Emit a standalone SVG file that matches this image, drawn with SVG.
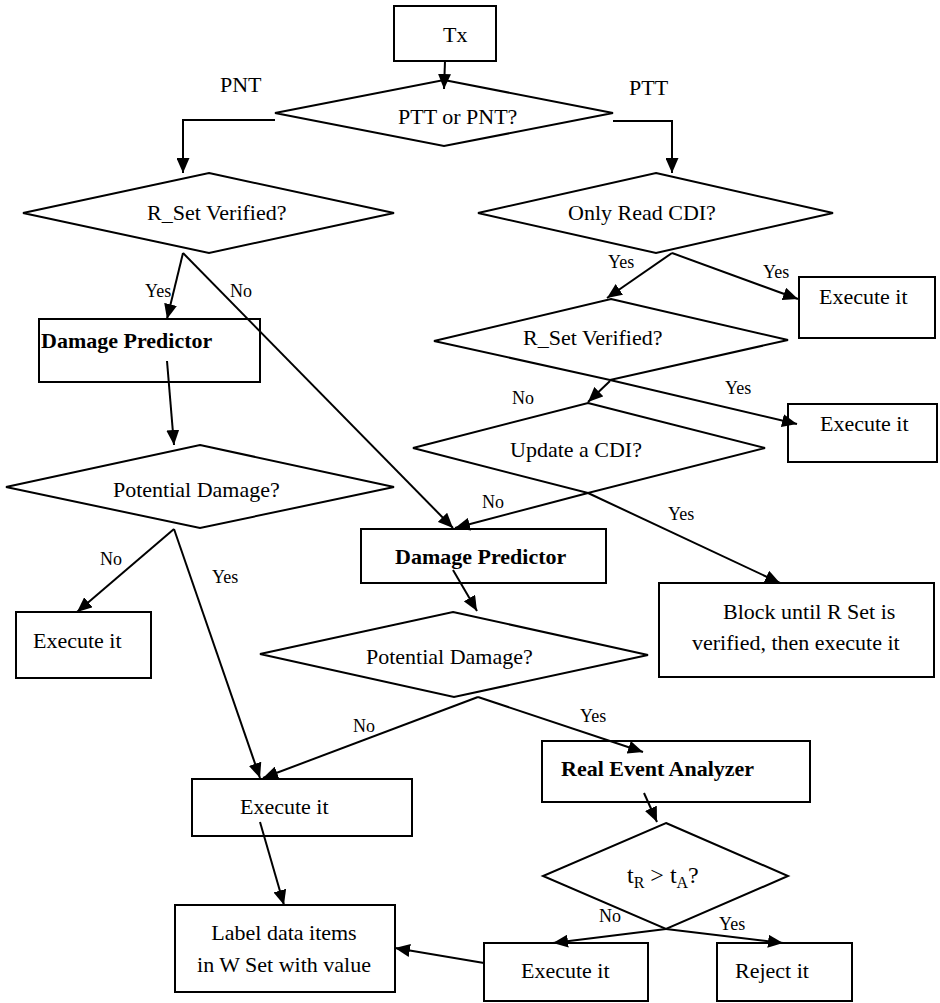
<svg xmlns="http://www.w3.org/2000/svg" width="940" height="1003" viewBox="0 0 940 1003">
<defs>
<marker id="ah" markerUnits="userSpaceOnUse" markerWidth="15" markerHeight="13" refX="15" refY="6.5" orient="auto">
<path d="M0,0 L15,6.5 L0,13 z" fill="#000"/>
</marker>
<style>
.s{fill:#fff;stroke:#000;stroke-width:2}
.c{fill:none;stroke:#000;stroke-width:2;marker-end:url(#ah)}
.l{fill:none;stroke:#000;stroke-width:2}
text{font-family:"Liberation Serif","Times New Roman",serif;fill:#000}
.t{font-size:22px}
.b{font-size:22px;font-weight:bold}
.y{font-size:18px}
</style>
</defs>
<rect width="940" height="1003" fill="#fff"/>

<g id="nodes">
<g id="tx"><rect class="s" x="394" y="6" width="102" height="55"/><text class="t" x="443" y="42">Tx</text></g>
<g id="ptt_or_pnt"><polygon class="s" points="444,80 613,113 444,146 275,113"/><text class="t" x="398" y="124">PTT or PNT?</text></g>
<g id="rset_left"><polygon class="s" points="209,173 394,213 209,253 23,213"/><text class="t" x="147" y="220">R_Set Verified?</text></g>
<g id="only_read"><polygon class="s" points="656,173 833,213 656,253 478,213"/><text class="t" x="568" y="220">Only Read CDI?</text></g>
<g id="exec1"><rect class="s" x="799" y="277" width="136" height="61"/><text class="t" x="819" y="304">Execute it</text></g>
<g id="dp_left"><rect class="s" x="39" y="319" width="221" height="63"/><text class="b" x="41" y="348">Damage Predictor</text></g>
<g id="rset_right"><polygon class="s" points="611,299 788,340 610,380 434,341"/><text class="t" x="523" y="345">R_Set Verified?</text></g>
<g id="exec2"><rect class="s" x="788" y="404" width="149" height="58"/><text class="t" x="820" y="431">Execute it</text></g>
<g id="update_cdi"><polygon class="s" points="588,403 765,448 588,493 413,448"/><text class="t" x="510" y="457">Update a CDI?</text></g>
<g id="pd_left"><polygon class="s" points="200,445 394,487 200,528 6,487"/><text class="t" x="113" y="497">Potential Damage?</text></g>
<g id="dp_mid"><rect class="s" x="361" y="529" width="245" height="54"/><text class="b" x="395" y="564">Damage Predictor</text></g>
<g id="block"><rect class="s" x="659" y="583" width="275" height="94"/><text class="t" x="723" y="619">Block until R Set is</text><text class="t" x="692" y="650">verified, then execute it</text></g>
<g id="exec_left"><rect class="s" x="16" y="612" width="135" height="66"/><text class="t" x="33" y="648">Execute it</text></g>
<g id="pd_mid"><polygon class="s" points="453,612 648,655 454,697 260,654"/><text class="t" x="366" y="664">Potential Damage?</text></g>
<g id="rea"><rect class="s" x="542" y="741" width="268" height="61"/><text class="b" x="561" y="776">Real Event Analyzer</text></g>
<g id="exec_mid"><rect class="s" x="192" y="779" width="220" height="57"/><text class="t" x="240" y="814">Execute it</text></g>
<g id="tr_ta"><polygon class="s" points="666,823 788,876 666,929 543,876"/><text x="627" y="883" font-size="24">t<tspan font-size="16" dy="5">R</tspan><tspan dy="-5"> &gt; t</tspan><tspan font-size="16" dy="5">A</tspan><tspan dy="-5">?</tspan></text></g>
<g id="label_box"><rect class="s" x="175" y="905" width="220" height="87"/><text class="t" x="284" y="940" text-anchor="middle">Label data items</text><text class="t" x="284" y="972" text-anchor="middle">in W Set with value</text></g>
<g id="exec_bottom"><rect class="s" x="484" y="943" width="164" height="58"/><text class="t" x="521" y="978">Execute it</text></g>
<g id="reject"><rect class="s" x="717" y="943" width="135" height="58"/><text class="t" x="735" y="978">Reject it</text></g>
</g>

<g id="connectors">
<line class="c" x1="445" y1="61" x2="444" y2="89"/>
<polyline class="c" points="275,120 183,120 183,173"/>
<polyline class="c" points="613,121 672,121 672,173"/>
<line class="c" x1="183" y1="253" x2="167" y2="319"/>
<line class="c" x1="183" y1="253" x2="453" y2="528"/>
<line class="c" x1="167" y1="361" x2="174" y2="445"/>
<line class="c" x1="174" y1="529" x2="77" y2="612"/>
<line class="c" x1="174" y1="529" x2="260" y2="778"/>
<line class="c" x1="672" y1="253" x2="607" y2="298"/>
<line class="c" x1="672" y1="253" x2="798" y2="299"/>
<line class="c" x1="610" y1="380" x2="797" y2="424"/>
<line class="c" x1="610" y1="381" x2="588" y2="402"/>
<line class="c" x1="588" y1="493" x2="455" y2="528"/>
<line class="c" x1="588" y1="493" x2="780" y2="583"/>
<line class="c" x1="453" y1="570" x2="477" y2="611"/>
<line class="c" x1="478" y1="697" x2="263" y2="778"/>
<line class="c" x1="478" y1="697" x2="643" y2="752"/>
<line class="c" x1="644" y1="793" x2="657" y2="822"/>
<line class="c" x1="666" y1="929" x2="553" y2="943"/>
<line class="c" x1="666" y1="929" x2="783" y2="943"/>
<line class="c" x1="260" y1="822" x2="284" y2="905"/>
<line class="c" x1="484" y1="963" x2="395" y2="948"/>
<text class="t" x="220" y="92">PNT</text>
<text class="t" x="629" y="95">PTT</text>
<text class="y" x="145" y="297">Yes</text>
<text class="y" x="230" y="297">No</text>
<text class="y" x="608" y="268">Yes</text>
<text class="y" x="763" y="278">Yes</text>
<text class="y" x="512" y="404">No</text>
<text class="y" x="725" y="394">Yes</text>
<text class="y" x="482" y="508">No</text>
<text class="y" x="668" y="520">Yes</text>
<text class="y" x="100" y="565">No</text>
<text class="y" x="212" y="583">Yes</text>
<text class="y" x="353" y="732">No</text>
<text class="y" x="580" y="722">Yes</text>
<text class="y" x="599" y="922">No</text>
<text class="y" x="719" y="930">Yes</text>
</g>
</svg>
